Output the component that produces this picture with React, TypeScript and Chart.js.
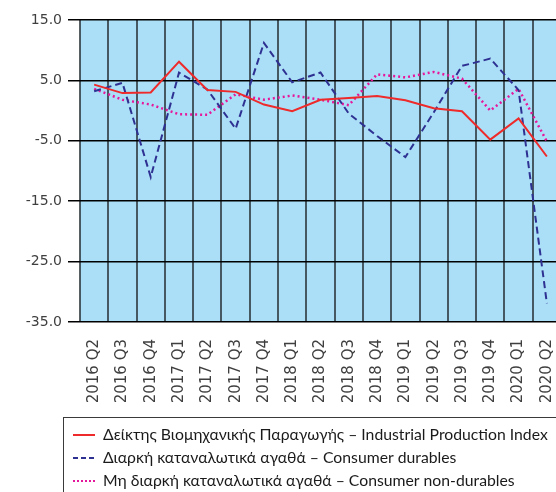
import React, { useEffect, useRef } from "react";
import { Chart, registerables } from "chart.js";

Chart.register(...registerables);

const categories = [
  "2016 Q2", "2016 Q3", "2016 Q4", "2017 Q1", "2017 Q2", "2017 Q3", "2017 Q4",
  "2018 Q1", "2018 Q2", "2018 Q3", "2018 Q4", "2019 Q1", "2019 Q2", "2019 Q3",
  "2019 Q4", "2020 Q1", "2020 Q2",
];

const industrial = [4.3, 2.9, 3.0, 8.1, 3.4, 3.1, 1.0, -0.1, 1.8, 2.1, 2.4, 1.7, 0.4, -0.1, -4.8, -1.3, -7.6];
const durables = [3.2, 4.6, -11.0, 6.3, 3.5, -3.0, 11.2, 4.7, 6.3, -0.5, -4.2, -7.7, -0.3, 7.4, 8.6, 3.4, -31.9];
const nonDurables = [3.6, 1.8, 1.0, -0.6, -0.7, 2.7, 1.8, 2.5, 1.8, 0.9, 6.0, 5.5, 6.4, 5.3, 0.0, 3.6, -5.1];

const yMin = -35;
const yMax = 15;
const yStep = 10;

const seriesLabels = [
  "Δείκτης Βιομηχανικής Παραγωγής – Industrial Production Index",
  "Διαρκή καταναλωτικά αγαθά – Consumer durables",
  "Μη διαρκή καταναλωτικά αγαθά – Consumer non-durables",
];

const RED = "#ee2a2a";
const BLUE = "#2e3192";
const MAGENTA = "#e6179a";
const PLOT_BG = "#abdff7";

const bgPlugin = {
  id: "plotBg",
  beforeDraw(chart: any) {
    const { ctx, chartArea } = chart;
    ctx.save();
    ctx.fillStyle = PLOT_BG;
    ctx.fillRect(chartArea.left, chartArea.top, chartArea.right - chartArea.left, chartArea.bottom - chartArea.top);
    ctx.restore();
  },
};

const legendPlugin = {
  id: "boxLegend",
  afterDraw(chart: any) {
    const ctx = chart.ctx;
    ctx.save();
    ctx.strokeStyle = "#3a3a3a";
    ctx.lineWidth = 1;
    ctx.strokeRect(63.5, 417.5, 600, 120);
    let size = 16;
    const family = "Lato";
    ctx.font = `${size}px ${family}`;
    while (ctx.measureText(seriesLabels[0]).width > 450 && size > 8) {
      size -= 0.25;
      ctx.font = `${size}px ${family}`;
    }
    const rows = [435, 458, 481];
    const styles = [
      { color: RED, dash: [] as number[], width: 2 },
      { color: BLUE, dash: [5, 3], width: 2 },
      { color: MAGENTA, dash: [2, 2], width: 2 },
    ];
    chart.data.datasets.forEach((ds: any, i: number) => {
      const y = rows[i];
      const s = styles[i];
      ctx.beginPath();
      ctx.setLineDash(s.dash);
      ctx.strokeStyle = s.color;
      ctx.lineWidth = s.width;
      ctx.moveTo(73, y);
      ctx.lineTo(95, y);
      ctx.stroke();
      ctx.setLineDash([]);
      ctx.fillStyle = "#1a1a1a";
      ctx.textBaseline = "middle";
      ctx.textAlign = "left";
      ctx.fillText(ds.label, 103, y);
    });
    ctx.restore();
  },
};

export default function App() {
  const ref = useRef<HTMLCanvasElement>(null);
  useEffect(() => {
    if (!ref.current) return;
    const chart = new Chart(ref.current, {
      type: "line",
      data: {
        labels: categories,
        datasets: [
          {
            label: seriesLabels[0],
            data: industrial,
            borderColor: RED,
            borderWidth: 2,
            pointRadius: 0,
            tension: 0,
          },
          {
            label: seriesLabels[1],
            data: durables,
            borderColor: BLUE,
            borderWidth: 2,
            borderDash: [7, 4],
            pointRadius: 0,
            tension: 0,
          },
          {
            label: seriesLabels[2],
            data: nonDurables,
            borderColor: MAGENTA,
            borderWidth: 2.5,
            borderDash: [2, 3],
            pointRadius: 0,
            tension: 0,
          },
        ],
      },
      options: {
        responsive: false,
        animation: false,
        clip: false as any,
        layout: { padding: { left: 0, top: 20, right: 39, bottom: 90 } },
        plugins: {
          legend: { display: false },
          tooltip: { enabled: false },
        },
        scales: {
          x: {
            offset: true,
            grid: {
              offset: true,
              color: "rgba(45,55,60,0.8)",
              lineWidth: 2,
              drawTicks: false,
            },
            border: { display: false },
            ticks: {
              minRotation: 90,
              maxRotation: 90,
              autoSkip: false,
              padding: 17,
              color: "#3f3f3f",
              font: { family: "DejaVu Sans", size: 15 },
            },
            afterFit(scale: any) {
              scale.height = 80;
            },
          },
          y: {
            min: yMin,
            max: yMax,
            ticks: {
              stepSize: yStep,
              padding: 6,
              color: "#3f3f3f",
              font: { family: "DejaVu Sans", size: 14 },
              callback: (v: any) => Number(v).toFixed(1),
            },
            grid: {
              color: "#000000",
              lineWidth: 1.5,
              tickLength: 12,
              drawTicks: true,
            },
            border: { display: false },
            afterFit(scale: any) {
              scale.width = 80;
            },
          },
        },
      },
      plugins: [bgPlugin, legendPlugin],
    });
    return () => chart.destroy();
  }, []);

  return (
    <div style={{ position: "fixed", left: 0, top: 0, width: 556, height: 492, overflow: "hidden", background: "#fff" }}>
      <canvas ref={ref} width={600} height={492} style={{ display: "block", width: 600, height: 492 }} />
    </div>
  );
}
